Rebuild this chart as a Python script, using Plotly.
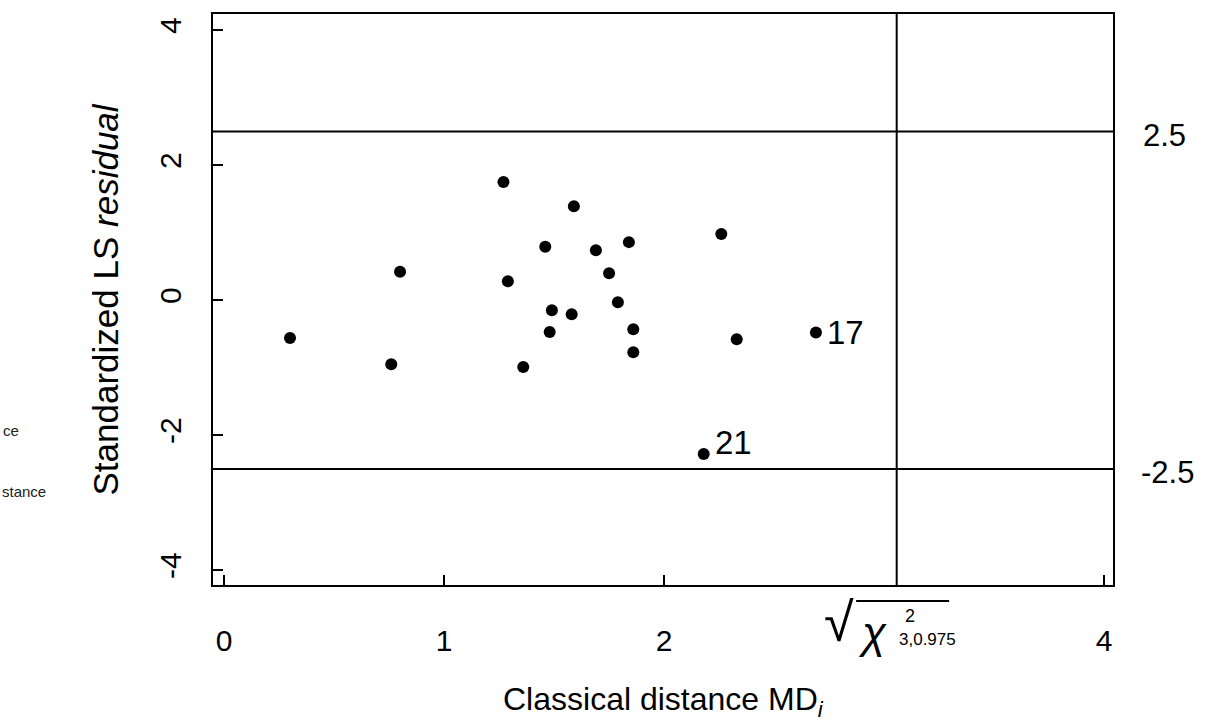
import plotly.graph_objects as go

# Classical Mahalanobis distance MD_i and standardized LS residual for each case
md = [0.30, 0.80, 0.76, 1.27, 1.29, 1.36, 1.59, 1.46, 1.69, 1.84, 1.75,
      1.79, 1.49, 1.58, 1.48, 1.86, 1.86, 2.26, 2.33, 2.69, 2.18]
resid = [-0.56, 0.42, -0.95, 1.75, 0.28, -0.99, 1.39, 0.79, 0.74, 0.86, 0.40,
         -0.03, -0.15, -0.21, -0.47, -0.43, -0.77, 0.98, -0.58, -0.48, -2.28]
case_ids = [""] * 19 + ["17", "21"]

cutoff_resid = [2.5, -2.5]
cutoff_md = 3.057  # sqrt(chi2_{3,0.975})
x_ticks = [0, 1, 2, 4]
y_ticks = [4, 2, 0, -2, -4]

FONT = "Liberation Sans, Arial, sans-serif"
BLACK = "black"

fig = go.Figure()
fig.add_trace(go.Scatter(
    x=md, y=resid, mode="markers",
    marker=dict(color=BLACK, size=12),
    showlegend=False, cliponaxis=False,
))

x0, x1 = -0.05, 4.04
for r in cutoff_resid:
    fig.add_shape(type="line", x0=x0, x1=x1, y0=r, y1=r, xref="x", yref="y",
                  line=dict(color=BLACK, width=2))
fig.add_shape(type="line", x0=cutoff_md, x1=cutoff_md, y0=0, y1=1,
              xref="x", yref="paper", line=dict(color=BLACK, width=2))

ann = []

# case numbers next to the outlying points
for xi, yi, lab in zip(md, resid, case_ids):
    if lab:
        ann.append(dict(x=xi, y=yi, xref="x", yref="y", text=lab, showarrow=False,
                        xanchor="left", xshift=9, yshift=12 if lab == "21" else 0,
                        font=dict(family=FONT, size=33, color=BLACK)))

for r in cutoff_resid:
    ann.append(dict(x=1.0, xref="paper", xanchor="left", xshift=28 if r > 0 else 26,
                    y=r, yref="y", yshift=-4,
                    text=f"{r:g}", showarrow=False,
                    font=dict(family=FONT, size=31, color=BLACK)))

# sqrt(chi^2_{3,0.975}) tick label built from pieces
def pix(px, py, text, size, anchor="center", italic=False):
    return dict(x=(px - 224) / 220, xref="x", y=0, yref="paper",
                yshift=-(py - 585), text=(f"<i>{text}</i>" if italic else text),
                showarrow=False, xanchor=anchor, yanchor="middle",
                font=dict(family=FONT, size=size, color=BLACK))

ann.append(pix(839, 622, "√", 54))
ann.append(pix(872, 632, "χ", 44, italic=True))
ann.append(pix(903, 616, "2", 18, anchor="left"))
ann.append(pix(897, 639, "3,0.975", 17, anchor="left"))
bar_y = -(601 - 585) / 571
fig.add_shape(type="line", x0=(856 - 224) / 220, x1=(949 - 224) / 220,
              y0=bar_y, y1=bar_y, xref="x", yref="paper",
              line=dict(color=BLACK, width=2))

# axis titles
ann.append(dict(x=0.5, xref="paper", y=0, yref="paper", yshift=-116,
                text="Classical distance MD<sub><i>i</i></sub>", showarrow=False,
                yanchor="middle", font=dict(family=FONT, size=32, color=BLACK)))
ann.append(dict(x=0, xref="paper", xshift=-108, y=0.5, yref="paper",
                text="Standardized LS <i>residual</i>", textangle=-90,
                showarrow=False, xanchor="center", yanchor="middle",
                font=dict(family=FONT, size=35, color=BLACK)))

# labels at the left page edge
for txt, py, right in [("ce", 430, 21), ("stance", 491, 48)]:
    ann.append(dict(x=-213 / 900, xref="paper", xshift=right, xanchor="right",
                    y=0, yref="paper", yshift=585 - py, yanchor="middle",
                    text=txt, showarrow=False,
                    font=dict(family=FONT, size=15, color="#222")))

fig.update_layout(annotations=ann)

fig.update_xaxes(range=[x0, x1], tickvals=x_ticks, ticktext=[str(v) for v in x_ticks],
                 showgrid=False, zeroline=False, showline=True, linecolor=BLACK,
                 linewidth=2, mirror=True, ticks="inside", ticklen=10, tickwidth=2,
                 tickcolor=BLACK, ticklabelstandoff=28,
                 tickfont=dict(family=FONT, size=30, color=BLACK))
fig.update_yaxes(range=[-4.22, 4.24], tickvals=y_ticks, ticktext=[str(v) for v in y_ticks],
                 showgrid=False, zeroline=False, showline=True, linecolor=BLACK,
                 linewidth=2, mirror=True, ticks="inside", ticklen=10, tickwidth=2,
                 tickcolor=BLACK, tickangle=-90, ticklabelstandoff=18,
                 tickfont=dict(family=FONT, size=30, color=BLACK))

fig.update_layout(width=1207, height=724, margin=dict(l=213, r=94, t=14, b=139),
                  plot_bgcolor="white", paper_bgcolor="white")

fig.write_html("out.html")
